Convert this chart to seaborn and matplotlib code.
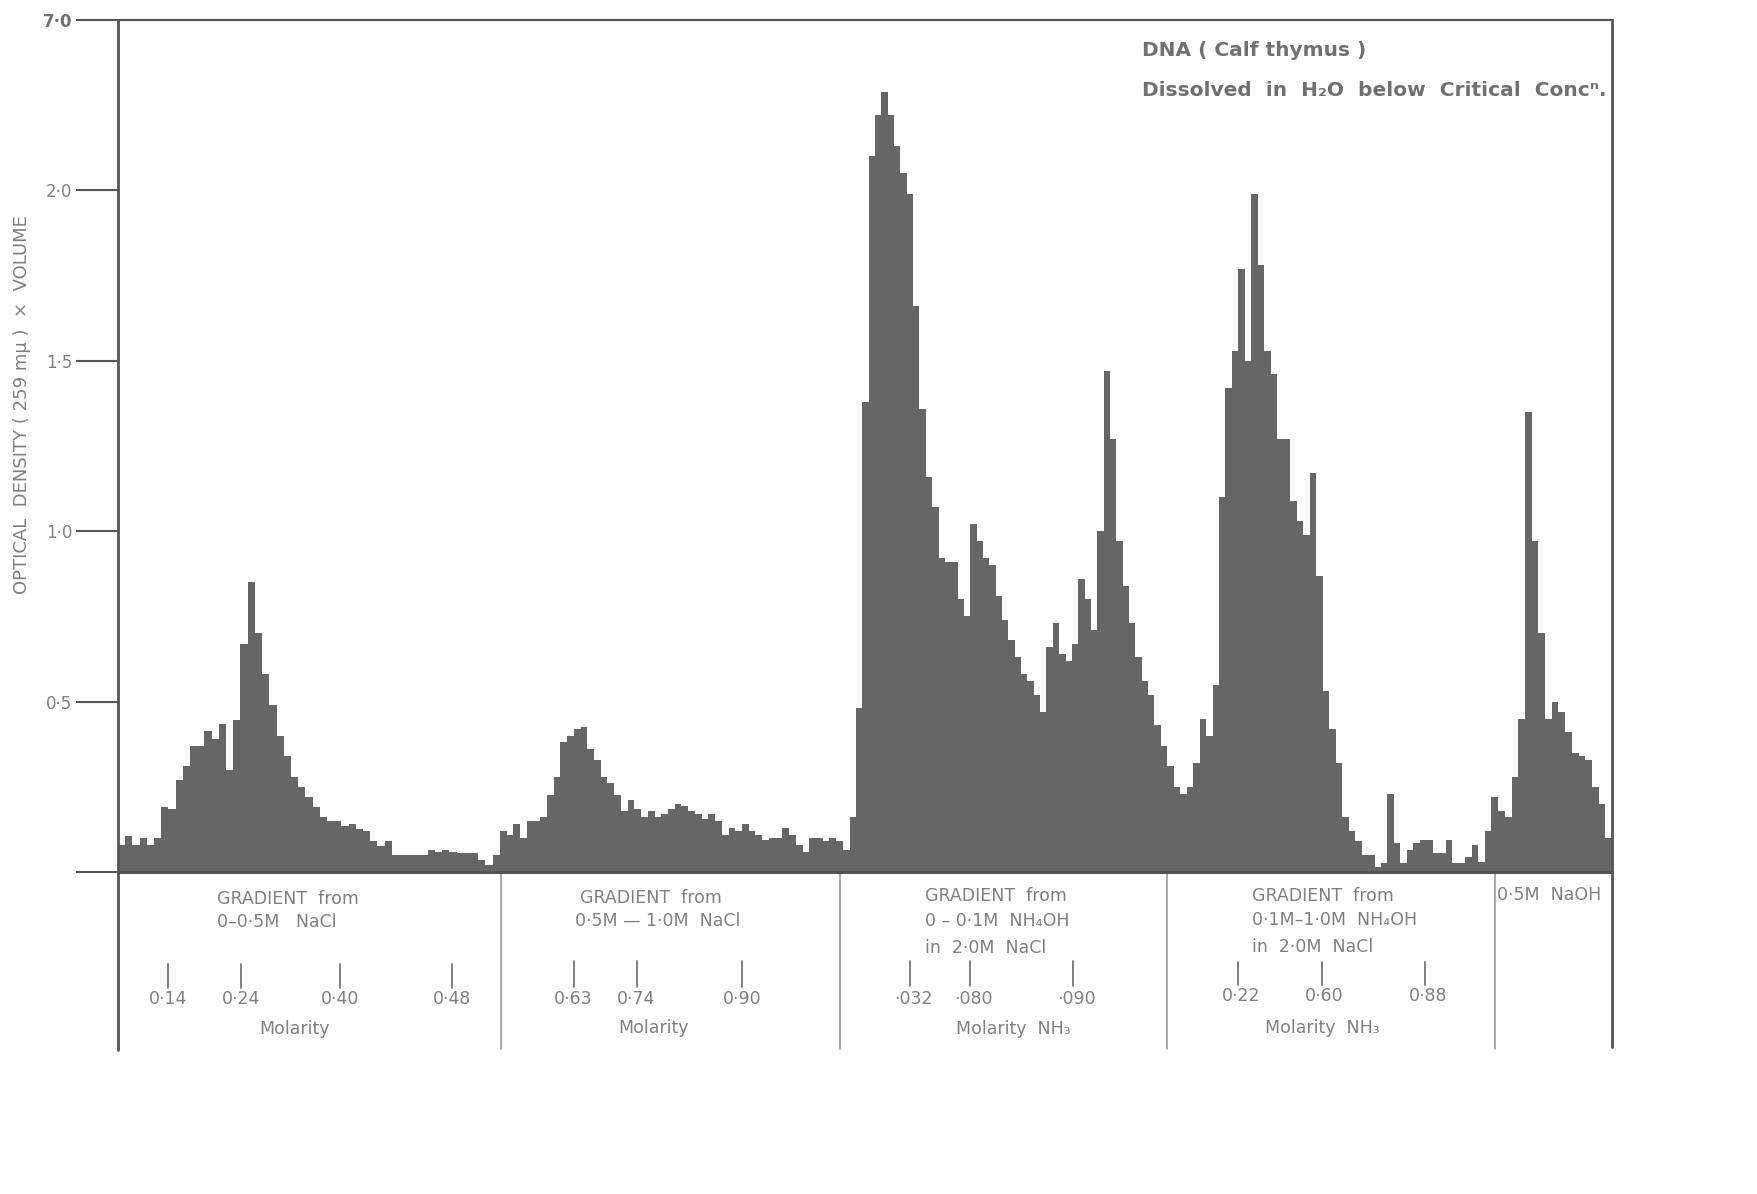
import numpy as np
import pandas as pd
import seaborn as sns
import matplotlib.pyplot as plt

# ---------------- data (optical density x volume per fraction) ----------------
sec1_nacl_0_05 = [0.08, 0.105, 0.08, 0.10, 0.08, 0.10, 0.19, 0.185, 0.27, 0.31,
                  0.37, 0.37, 0.415, 0.39, 0.435, 0.30, 0.445, 0.67, 0.85, 0.70,
                  0.58, 0.49, 0.40, 0.34, 0.28, 0.25, 0.22, 0.19, 0.16, 0.15,
                  0.15, 0.135, 0.14, 0.125, 0.12, 0.09, 0.075, 0.09, 0.05, 0.05,
                  0.05, 0.05, 0.05, 0.065, 0.06, 0.065, 0.06, 0.055, 0.055, 0.055,
                  0.035, 0.02, 0.05]
sec2_nacl_05_10 = [0.12, 0.11, 0.14, 0.10, 0.15, 0.15, 0.16, 0.225, 0.28, 0.38,
                   0.40, 0.42, 0.425, 0.36, 0.33, 0.28, 0.26, 0.225, 0.18, 0.21,
                   0.185, 0.16, 0.18, 0.16, 0.17, 0.185, 0.20, 0.195, 0.18, 0.17,
                   0.155, 0.17, 0.15, 0.11, 0.13, 0.12, 0.14, 0.12, 0.11, 0.095,
                   0.10, 0.10, 0.13, 0.11, 0.08, 0.06, 0.10, 0.10, 0.09, 0.10,
                   0.09, 0.065]
sec3_nh4oh_0_01 = [0.16, 0.48, 1.38, 2.10, 2.22, 2.29, 2.22, 2.13, 2.05, 1.99,
                   1.66, 1.36, 1.16, 1.07, 0.92, 0.91, 0.91, 0.80, 0.75, 1.02,
                   0.97, 0.92, 0.90, 0.81, 0.74, 0.68, 0.63, 0.58, 0.56, 0.52,
                   0.47, 0.66, 0.73, 0.64, 0.62, 0.67, 0.86, 0.80, 0.71, 1.00,
                   1.47, 1.27, 0.97, 0.84, 0.73, 0.63, 0.56, 0.52, 0.43, 0.37]
sec4_nh4oh_01_10 = [0.31, 0.25, 0.23, 0.25, 0.32, 0.45, 0.40, 0.55, 1.10, 1.42,
                    1.53, 1.77, 1.50, 1.99, 1.78, 1.53, 1.46, 1.27, 1.27, 1.09,
                    1.03, 0.99, 1.17, 0.87, 0.53, 0.42, 0.32, 0.16, 0.12, 0.09,
                    0.05, 0.05, 0.015, 0.025, 0.23, 0.085, 0.025, 0.065, 0.085, 0.095,
                    0.095, 0.055, 0.055, 0.095, 0.025, 0.025, 0.045, 0.08, 0.03]
sec5_naoh = [0.12, 0.22, 0.18, 0.16, 0.28, 0.45, 1.35, 0.97, 0.70, 0.45,
             0.50, 0.47, 0.41, 0.35, 0.34, 0.33, 0.25, 0.20, 0.10]

sections = [sec1_nacl_0_05, sec2_nacl_05_10, sec3_nh4oh_0_01, sec4_nh4oh_01_10, sec5_naoh]
section_edges = [0.0, 57.0, 109.2, 156.6, 204.0, 223.0]      # fraction number
gradient_dividers = [57.1, 107.7, 156.6, 205.5]

y_ticks = [0, 0.5, 1.0, 1.5, 2.0, 2.5]
y_ticklabels = ["", "0·5", "1·0", "1·5", "2·0", "7·0"]

# ---------------- build bins ----------------
edges = []
heights = []
for vals, a, b in zip(sections, section_edges[:-1], section_edges[1:]):
    e = np.linspace(a, b, len(vals) + 1)
    edges.extend(float(v) for v in e[:-1])
    heights.extend(vals)
edges.append(float(section_edges[-1]))
centers = [(a + b) / 2 for a, b in zip(edges[:-1], edges[1:])]
df = pd.DataFrame({"fraction": centers, "od": heights})

# ---------------- figure ----------------
sns.set_style("white")
plt.rcParams['font.family'] = ['DejaVu Sans']

W, H = 1757, 1194
fig = plt.figure(figsize=(W / 100, H / 100), dpi=100)
ax = fig.add_axes([118 / W, 1 - 872 / H, (1612 - 118) / W, 852 / H])

BAR = "#666666"
LINE = "#555555"
TXT = "#808080"

sns.histplot(data=df, x="fraction", weights="od", bins=edges, element="step",
             fill=True, color=BAR, alpha=1, linewidth=0, ax=ax)

ax.set_xlim(0, 223)
ax.set_ylim(0, 2.5)
ax.set_xlabel("")
ax.set_ylabel("")
ax.set_xticks([])
ax.set_yticks(y_ticks)
ax.set_yticklabels(y_ticklabels, fontsize=12, color=TXT)
ax.get_yticklabels()[-1].set_color("#707070")
ax.get_yticklabels()[-1].set_fontweight("bold")
ax.tick_params(axis="y", which="major", left=True, direction="out", length=30,
               width=1.5, color=LINE, pad=3)

for side, lw in [("left", 2.0), ("top", 1.6), ("right", 2.0), ("bottom", 2.2)]:
    ax.spines[side].set_visible(True)
    ax.spines[side].set_color(LINE)
    ax.spines[side].set_linewidth(lw)

# extensions of frame below baseline and gradient dividers
ax.plot([0, 0], [0, -0.523], color=LINE, lw=2.0, clip_on=False)
ax.plot([223, 223], [0, -0.513], color=LINE, lw=2.0, clip_on=False)
for xd in gradient_dividers:
    ax.plot([xd, xd], [0, -0.52], color="#9a9a9a", lw=1.2, clip_on=False)

# y label
fig.text(22 / W, 1 - 405 / H, "OPTICAL  DENSITY ( 259 mμ )  ×  VOLUME",
         rotation=90, ha="center", va="center", fontsize=13, color=TXT)

# title block
fig.text(1142 / W, 1 - 50 / H, "DNA ( Calf thymus )", ha="left", va="center",
         fontsize=14.5, fontweight="bold", color="#707070")
fig.text(1142 / W, 1 - 91 / H, "Dissolved  in  H₂O  below  Critical  Concⁿ.",
         ha="left", va="center", fontsize=14.5, fontweight="bold", color="#707070")

FS = 12.5
def txt(x, y, s, ha="center", **kw):
    ax.text(x, y, s, ha=ha, va="center", fontsize=FS, color=TXT, clip_on=False, **kw)

def tick(x, y0=-0.27, y1=-0.34):
    ax.plot([x, x], [y0, y1], color="#777777", lw=1.3, clip_on=False)

# section 1
txt(25.4, -0.078, "GRADIENT  from")
txt(23.7, -0.147, "0–0·5M   NaCl")
for x, lab in zip([7.5, 18.3, 33.1, 49.9], ["0·14", "0·24", "0·40", "0·48"]):
    tick(x)
    txt(x, -0.374, lab)
txt(26.4, -0.46, "Molarity")

# section 2
txt(79.6, -0.075, "GRADIENT  from")
txt(80.5, -0.144, "0·5M — 1·0M  NaCl")
for x, lab in zip([68.0, 77.4, 93.1], ["0·63", "0·74", "0·90"]):
    tick(x, -0.262, -0.338)
    txt(x, -0.374, lab)
txt(80.0, -0.459, "Molarity")

# section 3
txt(120.5, -0.071, "GRADIENT  from", ha="left")
txt(120.5, -0.143, "0 – 0·1M  NH₄OH", ha="left")
txt(120.5, -0.222, "in  2·0M  NaCl", ha="left")
for x, lab in zip([118.2, 127.2, 142.6], ["·032", "·080", "·090"]):
    tick(x, -0.261, -0.334)
    txt(x + 0.5, -0.373, lab)
txt(133.7, -0.462, "Molarity  NH₃")

# section 4
txt(169.2, -0.069, "GRADIENT  from", ha="left")
txt(169.2, -0.141, "0·1M–1·0M  NH₄OH", ha="left")
txt(169.2, -0.220, "in  2·0M  NaCl", ha="left")
for x, lab in zip([167.2, 179.7, 195.1], ["0·22", "0·60", "0·88"]):
    tick(x, -0.263, -0.332)
    txt(x + 0.4, -0.365, lab)
txt(179.7, -0.457, "Molarity  NH₃")

# section 5
txt(205.9, -0.067, "0·5M  NaOH", ha="left")

fig.savefig("out.png", dpi=100)
